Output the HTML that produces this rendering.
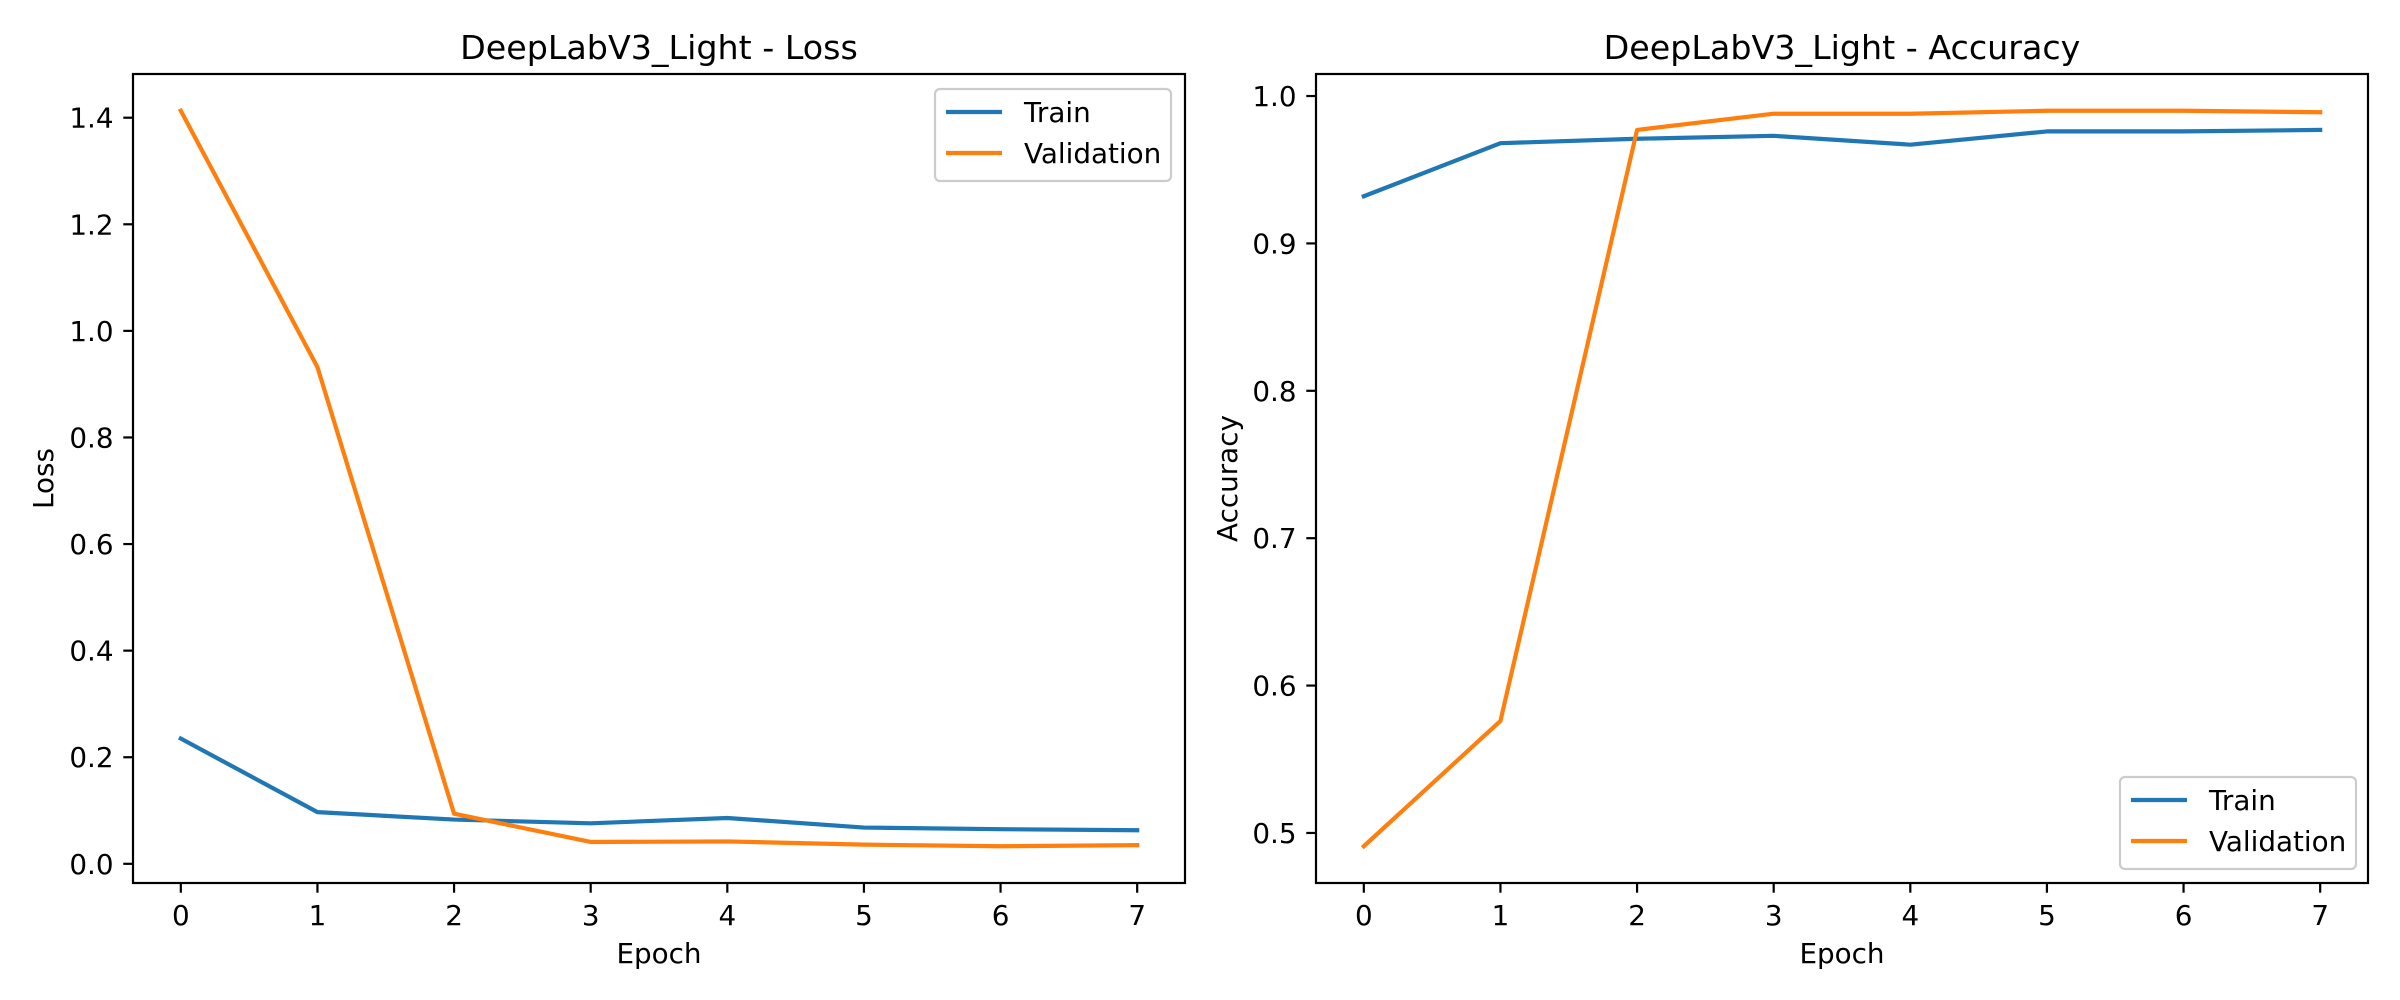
<!DOCTYPE html>
<html><head><meta charset="utf-8"><style>
html,body{margin:0;padding:0;background:#fff;}
svg{display:block;font-family:"DejaVu Sans","Liberation Sans",sans-serif;}
</style></head><body>
<svg id="chart" width="2400" height="1000" viewBox="0 0 2400 1000" xmlns="http://www.w3.org/2000/svg"></svg>
<script>
const epochs = [0,1,2,3,4,5,6,7];
const lossTrain = [0.235,0.097,0.083,0.076,0.086,0.068,0.065,0.063];
const lossVal = [1.413,0.932,0.094,0.041,0.042,0.036,0.033,0.035];
const accTrain = [0.932,0.968,0.971,0.973,0.967,0.976,0.976,0.977];
const accVal = [0.491,0.576,0.977,0.988,0.988,0.990,0.990,0.989];
const lossTicks = ["0.0","0.2","0.4","0.6","0.8","1.0","1.2","1.4"];
const accTicks = ["0.5","0.6","0.7","0.8","0.9","1.0"];
const xTicks = ["0","1","2","3","4","5","6","7"];

const NS="http://www.w3.org/2000/svg";
const svg=document.getElementById('chart');
const FS=27.8, LW=4.2, SW=2.2, TL=9.7;
function mk(tag,attrs,parent){const e=document.createElementNS(NS,tag);for(const k in attrs)e.setAttribute(k,attrs[k]);(parent||svg).appendChild(e);return e;}

function panel(cfg){
  const g=mk('g',{});
  
  
  const L=cfg.left,R=cfg.right,T=74,B=883,W=R-L,H=B-T;
  const all=cfg.series.flatMap(s=>s.values);
  let mn=Math.min(...all),mx=Math.max(...all),pad=(mx-mn)*0.05;
  const y0=mn-pad,y1=mx+pad;
  const xmin=Math.min(...epochs),xmax=Math.max(...epochs),xp=(xmax-xmin)*0.05;
  const sx=v=>L+(v-(xmin-xp))/((xmax-xmin)+2*xp)*W;
  const sy=v=>B-(v-y0)/(y1-y0)*H;
  xTicks.forEach(t=>{
    const x=sx(+t);
    const tk=mk('line',{x1:x,x2:x,y1:B,y2:B+TL,stroke:'#000','stroke-width':SW},g);
    
    
    const tx=mk('text',{x:x,y:925,'font-size':FS,'text-anchor':'middle',fill:'#000'},g);
    tx.textContent=t;
    
    
  });
  cfg.yTicks.forEach(t=>{
    const y=sy(+t);
    const tk=mk('line',{x1:L-TL,x2:L,y1:y,y2:y,stroke:'#000','stroke-width':SW},g);
    
    
    const tx=mk('text',{x:L-19.4,y:y+10,'font-size':FS,'text-anchor':'end',fill:'#000'},g);
    tx.textContent=t;
    
    
  });
  cfg.series.forEach(s=>{
    const p=mk('polyline',{points:epochs.map((e,i)=>sx(e)+','+sy(s.values[i])).join(' '),fill:'none',stroke:s.color,'stroke-width':LW,'stroke-linejoin':'round','stroke-linecap':'square'},g);
    
    
  });
  const fr=mk('rect',{x:L,y:T,width:W,height:H,fill:'none',stroke:'#000','stroke-width':SW},g);
  
  
  const ti=mk('text',{x:L+W/2,y:59,'font-size':33.3,'text-anchor':'middle',fill:'#000'},g);
  ti.textContent=cfg.title;
  
  
  const xl=mk('text',{x:L+W/2,y:963,'font-size':FS,'text-anchor':'middle',fill:'#000'},g);
  xl.textContent='Epoch';
  
  
  const yl=mk('text',{x:0,y:0,'font-size':FS,'text-anchor':'middle',fill:'#000',transform:`translate(${cfg.ylabX},${T+H/2}) rotate(-90)`},g);
  yl.textContent=cfg.ylabel;
  
  
  const lg=mk('g',{},g);
  
  
  const lx=cfg.legX,ly=cfg.legY;
  mk('rect',{x:lx,y:ly,width:236,height:92,rx:5,fill:'#fff','fill-opacity':0.8,stroke:'#ccc','stroke-width':SW},lg);
  cfg.series.forEach((s,i)=>{
    const cy=ly+23+i*41;
    const e=mk('g',{},lg);
    
    
    mk('line',{x1:lx+11,x2:lx+67,y1:cy,y2:cy,stroke:s.color,'stroke-width':LW},e);
    const t=mk('text',{x:lx+89,y:cy+10,'font-size':FS,fill:'#000'},e);
    t.textContent=s.label;
  });
}
panel({name:'loss-panel',left:133,right:1185,title:'DeepLabV3_Light - Loss',ylabel:'Loss',ylabX:53,yTicks:lossTicks,legX:935,legY:89,
  series:[{name:'loss-train-line',label:'Train',values:lossTrain,color:'#1f77b4'},{name:'loss-validation-line',label:'Validation',values:lossVal,color:'#ff7f0e'}]});
panel({name:'accuracy-panel',left:1316,right:2368,title:'DeepLabV3_Light - Accuracy',ylabel:'Accuracy',ylabX:1237,yTicks:accTicks,legX:2120,legY:777,
  series:[{name:'accuracy-train-line',label:'Train',values:accTrain,color:'#1f77b4'},{name:'accuracy-validation-line',label:'Validation',values:accVal,color:'#ff7f0e'}]});
</script>
</body></html>
